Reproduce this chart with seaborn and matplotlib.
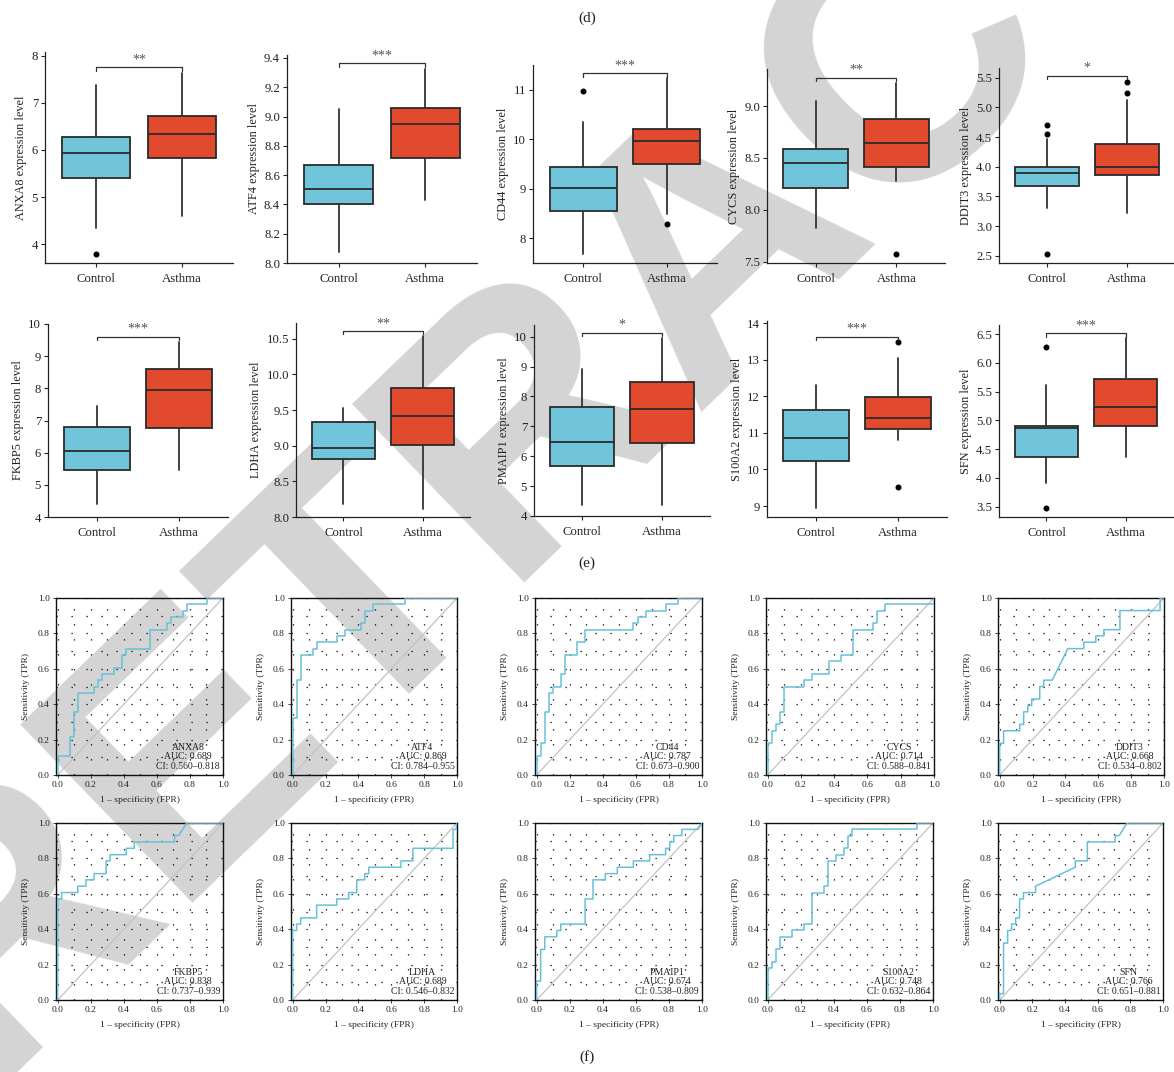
import matplotlib
matplotlib.use("Agg")
import matplotlib.pyplot as plt
import seaborn as sns
from matplotlib.ticker import MultipleLocator, FixedLocator

sns.set_theme(style="ticks")
plt.rcParams["font.family"] = ["Liberation Serif", "DejaVu Serif"]

W, H = 1174, 1072
DPI = 100

genes = ["ANXA8", "ATF4", "CD44", "CYCS", "DDIT3",
         "FKBP5", "LDHA", "PMAIP1", "S100A2", "SFN"]
groups = ["Control", "Asthma"]

# Box statistics per group: [lower whisker, Q1, median, Q3, upper whisker]
box_control = {
    "ANXA8": [4.35, 5.41, 5.94, 6.28, 7.38],
    "ATF4": [8.074, 8.406, 8.508, 8.669, 9.052],
    "CD44": [7.69, 8.559, 9.017, 9.442, 10.353],
    "CYCS": [7.83, 8.215, 8.455, 8.59, 9.051],
    "DDIT3": [3.298, 3.67, 3.888, 3.994, 4.46],
    "FKBP5": [4.415, 5.47, 6.06, 6.80, 7.45],
    "LDHA": [8.178, 8.816, 8.962, 9.327, 9.524],
    "PMAIP1": [4.368, 5.673, 6.465, 7.647, 8.907],
    "S100A2": [8.94, 10.22, 10.86, 11.63, 12.31],
    "SFN": [3.917, 4.358, 4.863, 4.904, 5.618],
}
box_asthma = {
    "ANXA8": [4.60, 5.84, 6.34, 6.73, 7.63],
    "ATF4": [8.43, 8.72, 8.95, 9.056, 9.326],
    "CD44": [8.497, 9.503, 9.968, 10.20, 11.23],
    "CYCS": [8.282, 8.417, 8.647, 8.872, 9.224],
    "DDIT3": [3.225, 3.865, 4.0, 4.382, 5.124],
    "FKBP5": [5.47, 6.77, 7.955, 8.61, 9.45],
    "LDHA": [8.117, 9.008, 9.42, 9.81, 10.533],
    "PMAIP1": [4.368, 6.43, 7.58, 8.483, 9.97],
    "S100A2": [10.81, 11.10, 11.40, 11.99, 13.04],
    "SFN": [4.358, 4.898, 5.235, 5.728, 6.43],
}
outliers_control = {
    "ANXA8": [3.79], "ATF4": [], "CD44": [10.97], "CYCS": [],
    "DDIT3": [4.708, 4.556, 2.534], "FKBP5": [], "LDHA": [],
    "PMAIP1": [], "S100A2": [], "SFN": [6.285, 3.483],
}
outliers_asthma = {
    "ANXA8": [], "ATF4": [], "CD44": [8.283], "CYCS": [7.574],
    "DDIT3": [5.433, 5.242], "FKBP5": [], "LDHA": [],
    "PMAIP1": [], "S100A2": [13.49, 9.53], "SFN": [],
}
significance = {
    "ANXA8": "**", "ATF4": "***", "CD44": "***", "CYCS": "**", "DDIT3": "*",
    "FKBP5": "***", "LDHA": "**", "PMAIP1": "*", "S100A2": "***", "SFN": "***",
}
bracket_y = {
    "ANXA8": 7.76, "ATF4": 9.365, "CD44": 11.33, "CYCS": 9.272, "DDIT3": 5.534,
    "FKBP5": 9.61, "LDHA": 10.61, "PMAIP1": 10.13, "S100A2": 13.635, "SFN": 6.517,
}
y_limits = {
    "ANXA8": (3.6, 8.08), "ATF4": (8.0, 9.42), "CD44": (7.5, 11.5),
    "CYCS": (7.49, 9.356), "DDIT3": (2.377, 5.664), "FKBP5": (4.0, 10.0),
    "LDHA": (8.0, 10.72), "PMAIP1": (4.0, 10.39), "S100A2": (8.70, 14.06),
    "SFN": (3.32, 6.66),
}
y_ticks = {
    "ANXA8": ["4", "5", "6", "7", "8"],
    "ATF4": ["8.0", "8.2", "8.4", "8.6", "8.8", "9.0", "9.2", "9.4"],
    "CD44": ["8", "9", "10", "11"],
    "CYCS": ["7.5", "8.0", "8.5", "9.0"],
    "DDIT3": ["2.5", "3.0", "3.5", "4.0", "4.5", "5.0", "5.5"],
    "FKBP5": ["4", "5", "6", "7", "8", "9", "10"],
    "LDHA": ["8.0", "8.5", "9.0", "9.5", "10.0", "10.5"],
    "PMAIP1": ["4", "5", "6", "7", "8", "9", "10"],
    "S100A2": ["9", "10", "11", "12", "13", "14"],
    "SFN": ["3.5", "4.0", "4.5", "5.0", "5.5", "6.0", "6.5"],
}

# ROC curve vertices (FPR, TPR)
roc_fpr = {
    "ANXA8": [0, 0, 0.073, 0.073, 0.098, 0.098, 0.122, 0.122, 0.22, 0.22, 0.244, 0.244,
              0.268, 0.268, 0.341, 0.341, 0.39, 0.39, 0.415, 0.415, 0.561, 0.561, 0.659,
              0.659, 0.683, 0.683, 0.756, 0.756, 0.78, 0.78, 0.902, 0.902, 1.0],
    "ATF4": [0, 0, 0.024, 0.024, 0.049, 0.049, 0.122, 0.122, 0.146, 0.146, 0.268, 0.268,
             0.317, 0.317, 0.415, 0.415, 0.439, 0.439, 0.488, 0.488, 0.683, 0.683, 1.0],
    "CD44": [0, 0, 0.024, 0.024, 0.049, 0.049, 0.073, 0.073, 0.098, 0.098, 0.146, 0.146,
             0.171, 0.171, 0.244, 0.244, 0.293, 0.293, 0.585, 0.585, 0.61, 0.61, 0.659,
             0.659, 0.78, 0.78, 0.854, 0.854, 1.0],
    "CYCS": [0, 0, 0.024, 0.024, 0.049, 0.049, 0.073, 0.073, 0.098, 0.098, 0.22, 0.22,
             0.268, 0.268, 0.366, 0.366, 0.439, 0.439, 0.512, 0.512, 0.634, 0.634, 0.659,
             0.659, 0.707, 0.707, 1.0, 1.0],
    "DDIT3": [0, 0, 0.024, 0.024, 0.122, 0.122, 0.146, 0.146, 0.171, 0.171, 0.195, 0.195,
              0.244, 0.244, 0.268, 0.268, 0.32, 0.415, 0.512, 0.512, 0.585, 0.585, 0.634,
              0.634, 0.732, 0.732, 0.976, 0.976, 1.0],
    "FKBP5": [0, 0, 0.024, 0.024, 0.122, 0.122, 0.171, 0.171, 0.22, 0.22, 0.293, 0.293,
              0.317, 0.317, 0.415, 0.415, 0.463, 0.463, 0.707, 0.707, 0.732, 0.756, 0.78,
              1.0],
    "LDHA": [0, 0, 0.024, 0.024, 0.049, 0.049, 0.146, 0.146, 0.268, 0.268, 0.341, 0.341,
             0.39, 0.39, 0.439, 0.439, 0.463, 0.463, 0.659, 0.659, 0.732, 0.732, 0.976,
             0.976, 0.995, 1.0],
    "PMAIP1": [0, 0, 0.024, 0.024, 0.049, 0.049, 0.122, 0.122, 0.146, 0.146, 0.293, 0.293,
               0.341, 0.341, 0.415, 0.415, 0.488, 0.488, 0.585, 0.585, 0.683, 0.683, 0.78,
               0.78, 0.805, 0.805, 0.829, 0.829, 0.878, 0.878, 0.976, 1.0],
    "S100A2": [0, 0, 0.024, 0.024, 0.049, 0.049, 0.073, 0.073, 0.146, 0.146, 0.22, 0.22,
               0.268, 0.268, 0.341, 0.341, 0.366, 0.366, 0.415, 0.415, 0.463, 0.463, 0.488,
               0.488, 0.512, 0.512, 0.902, 0.902, 1.0],
    "SFN": [0, 0, 0.024, 0.024, 0.049, 0.049, 0.073, 0.073, 0.098, 0.098, 0.122, 0.122,
            0.146, 0.146, 0.22, 0.22, 0.463, 0.463, 0.537, 0.537, 0.707, 0.707, 0.732,
            0.78, 1.0],
}
roc_tpr = {
    "ANXA8": [0, 0.107, 0.107, 0.214, 0.214, 0.357, 0.357, 0.464, 0.464, 0.5, 0.5, 0.536,
              0.536, 0.571, 0.571, 0.607, 0.607, 0.679, 0.679, 0.714, 0.714, 0.821, 0.821,
              0.857, 0.857, 0.893, 0.893, 0.929, 0.929, 0.964, 0.964, 1.0, 1.0],
    "ATF4": [0, 0.321, 0.321, 0.536, 0.536, 0.679, 0.679, 0.714, 0.714, 0.75, 0.75, 0.786,
             0.786, 0.821, 0.821, 0.857, 0.857, 0.929, 0.929, 0.964, 0.964, 1.0, 1.0],
    "CD44": [0, 0.107, 0.107, 0.179, 0.179, 0.357, 0.357, 0.464, 0.464, 0.5, 0.5, 0.571,
             0.571, 0.679, 0.679, 0.75, 0.75, 0.821, 0.821, 0.857, 0.857, 0.893, 0.893,
             0.929, 0.929, 0.964, 0.964, 1.0, 1.0],
    "CYCS": [0, 0.179, 0.179, 0.25, 0.25, 0.286, 0.286, 0.357, 0.357, 0.5, 0.5, 0.536,
             0.536, 0.571, 0.571, 0.643, 0.643, 0.679, 0.679, 0.821, 0.821, 0.857, 0.857,
             0.929, 0.929, 0.964, 0.964, 1.0],
    "DDIT3": [0, 0.179, 0.179, 0.25, 0.25, 0.286, 0.286, 0.357, 0.357, 0.393, 0.393, 0.429,
              0.429, 0.5, 0.5, 0.536, 0.536, 0.714, 0.714, 0.75, 0.75, 0.786, 0.786, 0.821,
              0.821, 0.929, 0.929, 1.0, 1.0],
    "FKBP5": [0, 0.571, 0.571, 0.607, 0.607, 0.643, 0.643, 0.679, 0.679, 0.714, 0.714, 0.786,
              0.786, 0.821, 0.821, 0.857, 0.857, 0.893, 0.893, 0.929, 0.929, 0.964, 1.0,
              1.0],
    "LDHA": [0, 0.393, 0.393, 0.429, 0.429, 0.464, 0.464, 0.536, 0.536, 0.571, 0.571, 0.607,
             0.607, 0.679, 0.679, 0.714, 0.714, 0.75, 0.75, 0.786, 0.786, 0.857, 0.857,
             0.964, 0.964, 1.0],
    "PMAIP1": [0, 0.107, 0.107, 0.286, 0.286, 0.357, 0.357, 0.393, 0.393, 0.429, 0.429, 0.571,
               0.571, 0.679, 0.679, 0.714, 0.714, 0.75, 0.75, 0.786, 0.786, 0.821, 0.821,
               0.857, 0.857, 0.893, 0.893, 0.929, 0.929, 0.964, 0.964, 1.0],
    "S100A2": [0, 0.179, 0.179, 0.214, 0.214, 0.286, 0.286, 0.357, 0.357, 0.393, 0.393, 0.429,
               0.429, 0.607, 0.607, 0.643, 0.643, 0.786, 0.786, 0.821, 0.821, 0.857, 0.857,
               0.929, 0.929, 0.964, 0.964, 1.0, 1.0],
    "SFN": [0, 0.036, 0.036, 0.321, 0.321, 0.393, 0.393, 0.429, 0.429, 0.464, 0.464, 0.571,
            0.571, 0.607, 0.607, 0.643, 0.75, 0.786, 0.786, 0.893, 0.893, 0.929, 0.929,
            1.0, 1.0],
}
auc = {"ANXA8": "0.689", "ATF4": "0.869", "CD44": "0.787", "CYCS": "0.714",
       "DDIT3": "0.668", "FKBP5": "0.838", "LDHA": "0.689", "PMAIP1": "0.674",
       "S100A2": "0.748", "SFN": "0.766"}
ci = {"ANXA8": "0.560–0.818", "ATF4": "0.784–0.955", "CD44": "0.673–0.900",
      "CYCS": "0.588–0.841", "DDIT3": "0.534–0.802", "FKBP5": "0.737–0.939",
      "LDHA": "0.546–0.832", "PMAIP1": "0.538–0.809", "S100A2": "0.632–0.864",
      "SFN": "0.651–0.881"}
roc_ticks = ["0.0", "0.2", "0.4", "0.6", "0.8", "1.0"]

# panel frames in pixels: left, right, top, bottom
box_frames = {
    "ANXA8": (45, 233, 52, 263), "ATF4": (287, 477, 55, 263),
    "CD44": (533, 717, 65, 263), "CYCS": (767, 945, 69, 263),
    "DDIT3": (999, 1175, 68, 263),
    "FKBP5": (48, 228, 324, 517), "LDHA": (296, 470, 323, 517),
    "PMAIP1": (534, 710, 325, 516), "S100A2": (767, 947, 321, 517),
    "SFN": (999, 1173, 325, 517),
}
roc_frames = {
    "ANXA8": (56, 223, 598, 775), "ATF4": (291, 457, 598, 775),
    "CD44": (535, 702, 598, 775), "CYCS": (766, 934, 598, 775),
    "DDIT3": (998, 1164, 598, 775),
    "FKBP5": (56, 223, 823, 1000), "LDHA": (291, 457, 823, 1000),
    "PMAIP1": (535, 702, 823, 1000), "S100A2": (766, 933, 823, 1000),
    "SFN": (998, 1163, 823, 1000),
}

CONTROL_COLOR = "#70C5DA"
ASTHMA_COLOR = "#E14A2C"
EDGE = "#2a2a2a"
ROC_COLOR = "#66C1D8"


def add_axes_px(fig, frame):
    l, r, t, b = frame
    return fig.add_axes([l / W, 1 - b / H, (r - l) / W, (b - t) / H])


fig = plt.figure(figsize=(W / DPI, H / DPI), dpi=DPI)

# diagonal watermark behind the panels
fig.text(-18 / W, 1 - 1083 / H, "RETRACTED", rotation=44, rotation_mode="anchor",
         ha="left", va="baseline", fontsize=260, fontweight="bold",
         family=["Liberation Sans", "DejaVu Sans"], color="#d4d4d4", zorder=-5)

for g in genes:
    ax = add_axes_px(fig, box_frames[g])
    ax.patch.set_alpha(0)
    stats = []
    for vals, fl, name in ((box_control[g], outliers_control[g], groups[0]),
                           (box_asthma[g], outliers_asthma[g], groups[1])):
        stats.append({"whislo": vals[0], "q1": vals[1], "med": vals[2],
                      "q3": vals[3], "whishi": vals[4], "fliers": fl, "label": name})
    bp = ax.bxp(stats, positions=[0, 1], widths=0.8, patch_artist=True,
                showcaps=False,
                boxprops=dict(edgecolor=EDGE, linewidth=1.3),
                medianprops=dict(color=EDGE, linewidth=1.3),
                whiskerprops=dict(color="#333333", linewidth=1.3),
                flierprops=dict(marker="o", markersize=3.3, markerfacecolor="black",
                                markeredgecolor="black"))
    for patch, col in zip(bp["boxes"], (CONTROL_COLOR, ASTHMA_COLOR)):
        patch.set_facecolor(col)
    ax.set_xlim(-0.6, 1.6)
    ax.set_ylim(*y_limits[g])
    tick_vals = [float(t) for t in y_ticks[g]]
    ax.yaxis.set_major_locator(FixedLocator(tick_vals))
    ax.set_yticklabels(y_ticks[g])
    ax.set_xticks([0, 1])
    ax.set_xticklabels(groups)
    ax.set_ylabel(f"{g} expression level", fontsize=8.8, labelpad=3, color="#222222")
    ax.tick_params(labelsize=9.2, length=3, width=0.8, pad=2, colors="#222222")
    ax.tick_params(axis="x", pad=4)
    for s in ("top", "right"):
        ax.spines[s].set_visible(False)
    for s in ("left", "bottom"):
        ax.spines[s].set_linewidth(0.9)
        ax.spines[s].set_color("#222222")
    y0, y1 = y_limits[g]
    by = bracket_y[g]
    drop = 0.018 * (y1 - y0)
    ax.plot([0, 0, 1, 1], [by - drop, by, by, by - drop], color="#333333",
            linewidth=0.9, clip_on=False)
    ax.text(0.5, by + 0.004 * (y1 - y0), significance[g], ha="center", va="bottom",
            fontsize=10, color="#555555")

for g in genes:
    ax = add_axes_px(fig, roc_frames[g])
    ax.patch.set_alpha(0)
    ax.set_xlim(-0.01, 1.0)
    ax.set_ylim(0.0, 1.0)
    ax.xaxis.set_minor_locator(MultipleLocator(0.1))
    ax.yaxis.set_minor_locator(MultipleLocator(0.1))
    ax.grid(which="both", color="black", linestyle=(0, (1, 11)), linewidth=0.9)
    ax.plot([0, 1], [0, 1], color="#c2c2c2", linewidth=0.9, zorder=2)
    sns.lineplot(x=roc_fpr[g], y=roc_tpr[g], sort=False, estimator=None, ax=ax,
                 color=ROC_COLOR, linewidth=1.1, zorder=3)
    ax.set_xticks([float(t) for t in roc_ticks])
    ax.set_xticklabels(roc_ticks)
    ax.set_yticks([float(t) for t in roc_ticks])
    ax.set_yticklabels(roc_ticks)
    ax.tick_params(which="major", labelsize=6.8, length=2, width=0.6, pad=2.5,
                   colors="#222222")
    ax.tick_params(which="minor", length=0)
    ax.set_xlabel("1 – specificity (FPR)", fontsize=6.8, labelpad=5, color="#222222")
    ax.set_ylabel("Sensitivity (TPR)", fontsize=6.8, labelpad=6, color="#222222")
    for s in ax.spines.values():
        s.set_linewidth(1.0)
        s.set_color("#111111")
    ax.text(0.79, 0.025, f"{g}\nAUC: {auc[g]}\nCI: {ci[g]}", ha="center", va="bottom",
            multialignment="center", fontsize=7, linespacing=1.05, color="#222222")

for label, ypx in (("(d)", 18), ("(e)", 563), ("(f)", 1057)):
    fig.text(0.5, 1 - ypx / H, label, ha="center", va="center", fontsize=11,
             color="#222222")

fig.savefig("out.png", dpi=DPI)
